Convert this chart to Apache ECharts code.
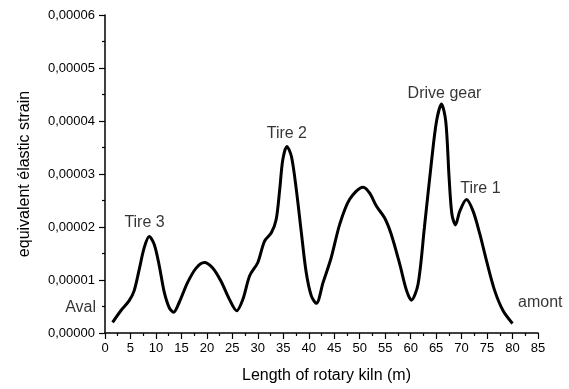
<!DOCTYPE html>
<html><head><meta charset="utf-8">
<script src="https://cdn.jsdelivr.net/npm/echarts@6/dist/echarts.min.js"></script>
<style>html,body{margin:0;padding:0;background:#fff}#c{width:569px;height:389px}</style>
</head><body><div id="c"></div>
<script>
// Curve samples: position along kiln (m) and equivalent elastic strain (x1e-5)
const positions = [1.49,3.1,4.75,5.73,6.72,7.7,8.68,9.67,10.65,11.63,12.6,13.46,14.58,16.2,17.85,19.5,21.1,22.75,24.4,25.85,27.08,28.4,30.0,31.3,32.65,33.6,34.3,34.9,35.7,36.6,37.55,38.55,39.5,40.5,41.5,42.8,44.4,46.07,48.0,50.65,51.96,53.3,54.9,56.2,57.86,59.2,60.15,61.45,62.7,64.1,65.07,66.05,66.9,67.55,68.1,68.8,69.65,70.96,72.26,73.6,74.9,76.5,78.15,80.0];
const strainE5 = [0.20,0.42,0.61,0.80,1.20,1.61,1.82,1.67,1.27,0.77,0.48,0.39,0.58,0.95,1.22,1.33,1.23,0.98,0.64,0.42,0.64,1.08,1.33,1.73,1.89,2.14,2.71,3.27,3.52,3.33,2.71,1.89,1.14,0.70,0.56,0.95,1.42,2.05,2.52,2.75,2.64,2.39,2.17,1.86,1.30,0.80,0.62,0.92,1.99,3.24,3.99,4.32,3.99,2.93,2.24,2.04,2.30,2.52,2.30,1.86,1.36,0.80,0.42,0.18];
// Annotations (text, position in m, strain x1e-5)
const annoText = ['Tire 3','Tire 2','Drive gear','Tire 1','amont','Aval'];
const annoX = [7.76,35.7,66.65,73.7,85.45,-4.8];
const annoYE5 = [2.08,3.77,4.51,2.73,0.58,0.48];
const xTicks = {min:0,max:85,interval:5};
const yTicks = {min:0,max:0.00006,interval:0.00001};

const lineData = positions.map((p,i)=>[p, strainE5[i]*1e-5]);
const annoData = annoText.map((t,i)=>({name:t,value:[annoX[i],annoYE5[i]*1e-5]}));
const font = 'Liberation Sans, Arial, sans-serif';
const chart = echarts.init(document.getElementById('c'));
chart.setOption({
  animation:false,
  backgroundColor:'#fff',
  grid:{left:105,right:31,top:15,bottom:55,containLabel:false},
  xAxis:{type:'value',min:xTicks.min,max:xTicks.max,interval:xTicks.interval,
    name:'Length of rotary kiln (m)',nameLocation:'middle',nameGap:35,
    nameTextStyle:{fontFamily:font,fontSize:16,color:'#000',padding:[0,0,0,10]},
    axisLine:{show:true,onZero:false,lineStyle:{color:'#000',width:1.5}},
    axisTick:{show:true,inside:false,length:6,lineStyle:{color:'#000',width:1.2}},
    minorTick:{show:true,splitNumber:2,length:3,lineStyle:{color:'#000',width:1.2}},
    splitLine:{show:false},
    axisLabel:{fontFamily:font,fontSize:13,color:'#000',margin:9}},
  yAxis:{type:'value',min:yTicks.min,max:yTicks.max,interval:yTicks.interval,
    name:'equivalent élastic strain',nameLocation:'middle',nameGap:72,
    nameTextStyle:{fontFamily:font,fontSize:16,color:'#000'},
    axisLine:{show:true,lineStyle:{color:'#000',width:1.5}},
    axisTick:{show:true,inside:false,length:6,lineStyle:{color:'#000',width:1.2}},
    minorTick:{show:true,splitNumber:2,length:3,lineStyle:{color:'#000',width:1.2}},
    splitLine:{show:false},
    axisLabel:{fontFamily:font,fontSize:13,color:'#000',margin:10,
      formatter:v=>v.toFixed(5).replace('.',',')}},
  series:[
    {type:'line',data:lineData,smooth:0.3,showSymbol:false,
      lineStyle:{color:'#000',width:3},itemStyle:{color:'#000'}},
    {type:'scatter',data:annoData,symbolSize:0,clip:false,silent:true,
      label:{show:true,position:'inside',formatter:p=>p.name,fontFamily:font,fontSize:16,color:'#000'}}
  ]
});
</script></body></html>
